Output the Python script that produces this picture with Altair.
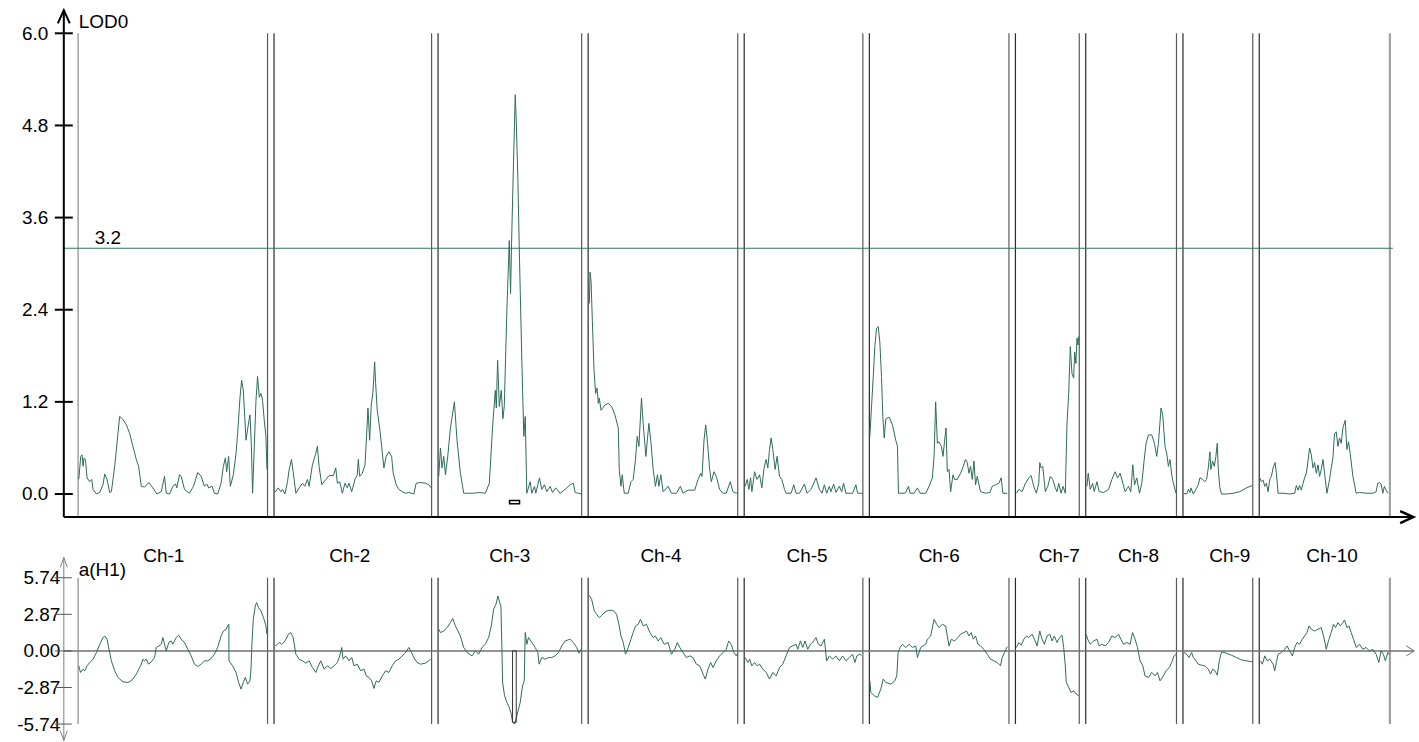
import altair as alt
import pandas as pd

# ------------------------------------------------------------------ data
CHROMS = ["Ch-1", "Ch-2", "Ch-3", "Ch-4", "Ch-5", "Ch-6", "Ch-7", "Ch-8", "Ch-9", "Ch-10"]
CHROM_CM = [190, 158, 144, 150, 119, 140, 64, 91, 70, 131]
NAME_AT_CM = [86, 76, 72, 73, 63, 70, 44, 53, 47, 73]
LOD_THRESHOLD = 3.2
LOD_TICKS = [0.0, 1.2, 2.4, 3.6, 4.8, 6.0]
ADD_TICKS = [-5.74, -2.87, 0.0, 2.87, 5.74]
QTL_CHROM = "Ch-3"
QTL_SUPPORT_CM = [71.7, 81.7]
QTL_PEAK_CM = [74.7, 78.4]
QTL_EFFECT = -5.6

LOD_CH1 = [(0.7,0.19),(2.7,0.49),(4.0,0.51),(5.0,0.36),(6.0,0.47),(7.4,0.45),(9.0,0.21),(11.7,0.16),(13.7,0.19),(15.0,0.06),(18.4,0.0),(21.7,0.02),(25.0,0.12),(26.7,0.26),(29.0,0.19),(31.7,0.02),(33.4,0.03),(36.7,0.36),(41.7,1.01),(45.0,0.97),(48.4,0.90),(51.7,0.79),(55.0,0.62),(58.4,0.45),(60.7,0.36),(63.4,0.10),(66.7,0.09),(71.0,0.15),(75.0,0.08),(79.0,0.0),(83.4,0.03),(86.7,0.23),(88.4,0.01),(91.7,0.0),(95.0,0.10),(97.7,0.13),(99.0,0.08),(101.7,0.25),(103.4,0.23),(106.7,0.06),(111.7,0.01),(115.7,0.10),(120.0,0.28),(123.4,0.23),(126.7,0.10),(129.0,0.13),(131.0,0.08),(134.4,0.10),(136.7,0.01),(140.0,0.0),(143.4,0.14),(145.7,0.36),(147.7,0.47),(149.0,0.29),(151.0,0.49),(152.7,0.10),(155.7,0.25),(158.4,0.53),(160.0,0.79),(162.4,1.26),(164.0,1.48),(165.7,1.35),(168.4,0.70),(170.4,0.88),(172.4,1.03),(173.7,0.66),(175.0,0.01),(176.7,0.62),(178.4,1.22),(180.0,1.53),(181.7,1.26),(183.4,1.31),(185.0,1.22),(186.7,0.96),(188.4,0.75),(189.4,0.32)]
LOD_CH2 = [(0.9,0.02),(4.2,0.08),(6.9,0.03),(8.5,0.06),(10.9,0.0),(13.5,0.16),(15.2,0.32),(17.5,0.45),(19.2,0.29),(21.9,0.01),(25.2,0.08),(28.5,0.14),(30.9,0.10),(33.5,0.19),(35.2,0.10),(38.5,0.38),(41.9,0.53),(43.5,0.62),(45.2,0.36),(47.9,0.12),(51.9,0.19),(55.2,0.24),(59.5,0.24),(61.9,0.34),(63.5,0.14),(65.9,0.16),(68.5,0.01),(71.2,0.14),(73.5,0.08),(75.2,0.14),(77.9,0.03),(81.2,0.19),(83.5,0.25),(84.5,0.45),(85.9,0.23),(88.5,0.27),(91.2,0.38),(92.9,0.77),(94.2,1.12),(95.9,0.70),(97.5,1.16),(99.2,1.33),(100.9,1.72),(101.9,1.44),(103.5,1.09),(106.2,0.83),(110.2,0.34),(112.5,0.49),(115.2,0.55),(117.9,0.49),(119.5,0.27),(122.5,0.12),(125.2,0.06),(128.5,0.03),(131.9,0.01),(135.2,0.02),(140.2,0.0),(142.5,0.14),(146.9,0.15),(151.9,0.14),(155.2,0.12),(157.5,0.08)]
LOD_CH3 = [(0.7,0.23),(2.4,0.60),(4.0,0.34),(5.7,0.49),(7.4,0.25),(9.7,0.49),(12.4,0.86),(16.4,1.20),(19.0,0.70),(22.4,0.27),(25.7,0.01),(30.7,0.01),(35.7,0.01),(40.7,0.02),(47.4,0.01),(51.4,0.14),(54.7,0.88),(57.4,1.35),(58.4,1.12),(59.7,1.74),(61.4,1.14),(63.4,1.35),(65.0,0.98),(66.4,1.14),(69.0,2.39),(71.4,3.30),(72.7,2.61),(74.0,3.43),(75.7,4.34),(77.4,5.20),(78.4,4.86),(80.0,4.12),(81.7,3.04),(84.0,1.74),(86.0,0.75),(87.4,1.01),(89.0,0.01),(92.4,0.16),(94.0,0.01),(96.7,0.10),(98.0,0.01),(101.7,0.21),(104.0,0.06),(106.7,0.12),(109.0,0.03),(112.4,0.10),(114.7,0.02),(118.0,0.08),(122.4,0.01),(127.4,0.06),(132.4,0.12),(135.7,0.14),(137.4,0.02),(140.7,0.01),(144.0,0.0)]
LOD_CH4 = [(1.2,2.48),(1.9,2.89),(2.9,2.78),(4.2,2.26),(5.9,1.61),(7.5,1.31),(8.9,1.38),(10.2,1.18),(11.2,1.25),(12.9,1.09),(16.9,1.16),(20.2,1.18),(23.5,1.14),(26.9,1.03),(30.2,0.86),(31.2,0.32),(32.9,0.10),(34.2,0.25),(36.2,0.01),(40.2,0.01),(42.9,0.16),(45.2,0.19),(47.5,0.45),(49.2,0.75),(50.9,0.62),(53.5,1.25),(55.2,0.92),(57.9,0.49),(60.9,0.92),(62.9,0.68),(65.2,0.32),(67.5,0.10),(69.5,0.25),(70.9,0.10),(72.9,0.25),(75.2,0.03),(80.2,0.10),(83.5,0.01),(88.5,0.01),(92.5,0.10),(95.2,0.01),(100.2,0.05),(106.9,0.05),(110.2,0.19),(112.9,0.27),(114.2,0.23),(116.2,0.70),(117.9,0.90),(119.5,0.70),(121.9,0.32),(123.5,0.16),(126.2,0.29),(128.5,0.23),(131.9,0.06),(135.2,0.01),(138.5,0.01),(142.5,0.16),(145.2,0.03),(148.5,0.01),(149.9,0.02)]
LOD_CH5 = [(1.0,0.10),(3.0,0.19),(4.7,0.06),(6.4,0.21),(7.7,0.03),(10.4,0.29),(12.7,0.19),(15.4,0.25),(17.7,0.08),(19.7,0.32),(22.0,0.45),(23.7,0.34),(25.4,0.58),(27.0,0.73),(28.7,0.58),(31.0,0.32),(33.0,0.49),(35.4,0.23),(37.7,0.19),(40.4,0.06),(42.0,0.01),(47.0,0.01),(49.7,0.12),(52.0,0.01),(55.4,0.01),(60.4,0.13),(63.0,0.01),(67.0,0.06),(72.0,0.21),(75.4,0.06),(78.0,0.01),(80.4,0.12),(82.7,0.01),(85.4,0.10),(87.0,0.03),(89.7,0.13),(92.0,0.02),(95.4,0.10),(97.7,0.03),(99.7,0.14),(102.0,0.01),(105.4,0.01),(108.7,0.01),(112.0,0.12),(113.7,0.01),(117.0,0.01),(118.7,0.01)]
LOD_CH6 = [(0.5,0.75),(2.2,1.14),(3.9,1.53),(5.5,1.92),(7.2,2.16),(8.9,2.18),(10.5,1.98),(12.2,1.53),(13.5,1.01),(14.9,0.73),(16.5,0.98),(19.9,1.00),(23.2,0.90),(26.5,0.70),(28.2,0.62),(29.2,0.01),(34.9,0.01),(36.5,0.02),(39.2,0.10),(40.9,0.01),(44.9,0.01),(48.2,0.08),(50.9,0.01),(56.5,0.01),(59.9,0.10),(63.2,0.21),(64.9,0.49),(66.5,1.20),(68.2,0.66),(69.9,0.68),(72.2,0.62),(73.9,0.49),(75.5,0.70),(76.9,0.86),(78.2,0.29),(79.9,0.32),(81.5,0.03),(83.9,0.25),(85.5,0.19),(88.2,0.19),(91.5,0.27),(94.2,0.36),(96.5,0.45),(98.2,0.41),(99.9,0.27),(101.5,0.36),(103.2,0.19),(104.9,0.43),(106.5,0.12),(108.2,0.23),(111.5,0.03),(116.5,0.01),(120.9,0.02),(123.2,0.10),(126.5,0.12),(129.9,0.14),(132.2,0.21),(133.9,0.01),(138.2,0.01)]
LOD_CH7 = [(1.0,0.01),(3.4,0.06),(6.7,0.03),(10.0,0.14),(13.4,0.21),(15.7,0.24),(18.4,0.10),(21.0,0.01),(23.4,0.14),(24.4,0.41),(25.7,0.34),(27.4,0.36),(30.0,0.03),(32.4,0.10),(35.0,0.23),(37.4,0.19),(40.0,0.08),(41.7,0.03),(43.4,0.14),(45.7,0.01),(47.7,0.10),(50.0,0.01),(51.7,0.92),(53.4,1.31),(55.0,1.92),(56.7,1.57),(58.4,1.51),(59.4,1.85),(60.7,1.70),(61.7,2.03),(62.7,1.94),(63.4,2.05)]
LOD_CH8 = [(1.2,0.10),(2.5,0.27),(4.5,0.06),(6.9,0.14),(8.5,0.03),(11.2,0.16),(13.5,0.03),(17.9,0.02),(22.9,0.06),(26.2,0.19),(29.5,0.29),(31.9,0.21),(34.5,0.27),(37.2,0.14),(39.5,0.03),(42.9,0.10),(45.2,0.03),(47.2,0.38),(48.9,0.12),(51.2,0.21),(53.9,0.01),(56.2,0.14),(58.5,0.43),(60.5,0.66),(62.9,0.77),(66.2,0.77),(68.9,0.66),(71.2,0.49),(72.9,0.66),(74.5,0.94),(75.5,1.12),(77.2,1.03),(79.5,0.62),(81.2,0.53),(82.9,0.36),(84.5,0.45),(86.2,0.25),(87.9,0.14),(90.5,0.01)]
LOD_CH9 = [(0.4,0.01),(3.7,0.0),(5.4,0.06),(7.0,0.02),(8.0,0.08),(10.4,0.0),(13.0,0.06),(15.4,0.12),(17.0,0.21),(19.7,0.19),(22.0,0.16),(23.7,0.19),(25.4,0.34),(26.4,0.47),(27.0,0.55),(28.0,0.32),(29.7,0.43),(31.4,0.36),(33.0,0.49),(34.4,0.66),(35.4,0.32),(37.0,0.08),(38.7,0.0),(43.7,0.0),(50.4,0.01),(57.0,0.03),(63.7,0.08),(69.4,0.11)]
LOD_CH10 = [(0.5,0.21),(2.2,0.16),(3.9,0.18),(5.5,0.10),(7.2,0.14),(8.9,0.03),(10.5,0.19),(12.2,0.23),(13.9,0.34),(15.9,0.41),(17.2,0.27),(18.9,0.01),(23.9,0.01),(30.5,0.0),(35.5,0.01),(37.2,0.11),(38.9,0.05),(40.5,0.11),(42.2,0.05),(43.9,0.14),(45.5,0.21),(47.2,0.27),(48.9,0.43),(50.5,0.60),(52.2,0.51),(53.9,0.34),(55.5,0.41),(57.2,0.27),(58.9,0.38),(60.5,0.23),(62.2,0.32),(63.9,0.45),(65.5,0.27),(67.9,0.01),(70.5,0.19),(72.2,0.34),(73.9,0.47),(75.5,0.79),(77.2,0.81),(78.9,0.62),(80.5,0.73),(82.2,0.66),(83.9,0.86),(86.2,0.96),(87.9,0.58),(89.5,0.68),(91.2,0.53),(93.9,0.23),(97.2,0.01),(100.5,0.02),(107.2,0.01),(113.9,0.01),(117.2,0.03),(118.9,0.14),(120.5,0.15),(122.2,0.13),(123.9,0.01),(125.5,0.10),(127.2,0.05),(128.9,0.01)]

ADD_CH1 = [(0.7,-1.17),(2.4,-1.69),(5.0,-1.43),(6.7,-1.56),(9.0,-1.17),(11.7,-0.91),(15.0,-0.65),(18.4,-0.13),(21.7,0.52),(25.0,1.05),(26.7,1.17),(29.0,0.92),(31.0,0.13),(33.4,-0.78),(36.7,-1.56),(40.0,-2.08),(45.0,-2.43),(50.0,-2.47),(53.4,-2.35),(58.4,-1.82),(63.4,-1.04),(65.0,-0.65),(66.7,-0.78),(68.4,-0.65),(70.7,-1.04),(73.4,-0.86),(76.7,-0.52),(78.4,0.27),(81.0,0.39),(83.4,0.52),(85.0,1.05),(86.7,0.52),(88.4,0.0),(91.0,0.66),(93.4,0.78),(95.0,0.52),(98.4,1.05),(101.0,1.23),(103.4,0.92),(106.7,0.66),(110.0,0.13),(113.4,-0.39),(116.7,-1.04),(120.0,-1.22),(123.4,-1.04),(126.7,-0.78),(130.0,-0.78),(133.4,-0.60),(136.7,-0.26),(140.0,0.27),(143.4,1.17),(145.7,1.56),(148.4,1.70),(150.0,1.96),(151.2,2.09),(151.3,-0.78),(155.0,-1.17),(158.4,-1.69),(161.0,-2.47),(163.4,-3.00),(165.7,-2.47),(167.7,-2.08),(170.0,-2.61),(172.4,-2.35),(173.4,-1.43),(174.4,0.66),(175.7,2.48),(177.7,3.52),(179.0,3.79),(181.0,3.40),(183.4,3.13),(186.0,2.61),(188.4,1.96),(189.4,1.31)]
ADD_CH2 = [(1.2,0.39),(3.5,0.52),(5.2,0.66),(7.9,0.52),(10.2,0.70),(11.9,0.92),(14.5,1.31),(16.9,1.44),(19.2,1.05),(21.9,-0.26),(25.2,-0.65),(28.5,-0.78),(31.9,-0.96),(35.2,-0.78),(38.5,-1.30),(41.9,-1.69),(44.5,-1.17),(46.9,-0.78),(50.2,-1.43),(53.5,-1.17),(56.9,-1.38),(60.2,-1.17),(63.5,-0.91),(65.9,-0.39),(67.9,0.27),(69.2,-0.65),(71.9,-0.39),(75.2,-0.78),(77.9,-0.52),(80.2,-1.17),(83.5,-1.04),(86.9,-1.56),(90.2,-1.43),(92.5,-1.96),(95.2,-2.08),(97.9,-2.35),(100.2,-2.94),(102.5,-2.35),(105.2,-2.47),(108.5,-1.96),(111.9,-1.56),(115.2,-1.69),(118.5,-1.17),(121.9,-0.78),(125.2,-0.65),(128.5,-0.39),(131.9,-0.13),(135.2,0.27),(137.9,-0.13),(140.2,-0.52),(143.5,-0.91),(146.9,-1.04),(151.9,-0.96),(155.2,-0.78),(157.5,-0.60)]
ADD_CH3 = [(0.7,1.70),(2.4,1.44),(5.7,1.56),(9.0,1.83),(12.4,2.22),(14.7,2.54),(17.4,1.96),(22.4,1.17),(25.7,0.27),(29.0,-0.13),(34.0,-0.39),(37.4,0.0),(40.7,-0.26),(44.0,0.27),(47.4,0.52),(50.7,1.05),(53.4,1.96),(55.7,3.26),(58.0,3.65),(60.0,4.30),(61.4,3.91),(63.0,3.52),(64.0,0.39),(64.7,-2.47),(66.7,-3.52),(69.0,-4.04),(71.4,-4.43),(73.4,-4.95),(74.7,-5.60),(76.7,-5.74),(79.0,-5.09),(82.4,-4.04),(84.7,-2.74),(86.4,-2.35),(87.4,1.44),(89.0,0.52),(90.7,1.05),(94.0,0.66),(97.4,0.27),(100.0,-0.13),(101.4,-1.04),(104.0,-0.52),(107.4,-0.65),(110.7,-0.52),(114.0,-0.52),(117.4,-0.39),(120.7,-0.13),(124.0,0.39),(127.4,0.78),(132.4,0.92),(135.7,0.66),(139.0,0.27),(141.4,-0.18),(143.4,0.13)]
ADD_CH4 = [(1.2,4.36),(3.5,4.05),(6.2,3.13),(8.5,2.87),(11.2,2.61),(13.5,2.79),(16.9,3.05),(20.2,3.18),(25.2,3.18),(28.5,2.87),(31.2,1.96),(32.9,1.17),(35.2,0.66),(37.5,-0.26),(40.2,0.27),(42.9,0.92),(45.2,1.44),(47.5,1.96),(50.2,2.09),(52.5,2.48),(55.2,1.96),(58.5,2.09),(61.9,1.44),(65.2,1.05),(67.5,1.17),(70.2,0.78),(72.9,1.05),(76.2,0.52),(80.2,0.66),(83.5,-0.26),(86.9,0.13),(89.5,0.66),(91.9,0.27),(95.2,-0.13),(98.5,-0.52),(101.9,-0.39),(105.2,-0.52),(108.5,-1.04),(111.9,-1.17),(115.2,-1.82),(117.5,-2.21),(120.2,-1.43),(122.9,-0.91),(125.2,-1.30),(128.5,-0.78),(131.9,-0.39),(135.2,-0.13),(138.5,0.13),(140.9,0.78),(143.5,0.52),(146.2,-0.13),(148.5,-0.39),(149.9,-0.18)]
ADD_CH5 = [(1.0,-0.52),(3.7,-0.91),(5.4,-0.65),(7.7,-1.17),(10.4,-0.91),(13.0,-1.17),(15.4,-1.04),(18.7,-1.43),(22.0,-1.69),(25.4,-2.21),(28.7,-1.69),(32.0,-1.96),(35.4,-1.30),(38.7,-1.04),(42.0,-0.39),(45.4,0.27),(48.7,0.39),(52.0,0.52),(53.7,0.13),(56.4,0.78),(58.7,0.27),(61.0,0.78),(63.7,0.13),(66.4,0.52),(69.7,0.78),(72.0,1.05),(74.4,0.52),(77.0,0.39),(80.4,0.92),(82.7,-0.78),(85.4,-0.39),(88.7,-0.65),(92.0,-0.39),(95.4,-0.78),(98.7,-0.39),(102.0,-0.78),(105.4,-0.52),(108.7,-0.26),(111.0,-0.91),(113.0,-0.39),(115.4,-0.26),(117.7,-0.34)]
ADD_CH6 = [(0.5,-2.35),(1.5,-3.26),(4.9,-3.52),(8.2,-3.65),(11.5,-3.00),(13.9,-2.21),(16.5,-2.47),(21.5,-2.61),(25.5,-2.35),(27.5,-1.96),(28.9,-0.13),(30.9,0.27),(33.2,0.52),(36.5,0.27),(39.9,0.52),(43.2,0.27),(46.5,0.39),(48.2,-0.52),(51.5,0.27),(56.5,0.52),(58.2,0.92),(61.5,1.17),(64.9,2.48),(67.5,2.09),(69.9,1.83),(73.2,2.09),(76.5,1.96),(79.9,0.39),(82.2,0.92),(85.5,0.78),(88.9,1.05),(91.5,1.31),(94.9,1.44),(97.5,1.56),(99.9,1.17),(102.2,1.44),(104.2,0.92),(106.5,1.17),(108.9,0.52),(111.5,0.39),(114.9,0.13),(118.2,-0.26),(121.5,-0.65),(124.9,-0.78),(128.2,-0.91),(131.5,-1.17),(133.2,-0.52),(135.5,-0.13),(138.2,0.34)]
ADD_CH7 = [(1.0,0.27),(3.4,0.66),(5.7,0.45),(8.4,0.92),(11.0,1.17),(13.4,1.05),(16.7,1.31),(19.0,0.92),(21.7,0.39),(24.4,1.56),(26.7,0.92),(29.0,0.52),(31.7,1.17),(34.4,1.31),(36.7,0.78),(39.0,1.17),(41.7,0.66),(44.4,1.05),(46.7,1.23),(48.4,0.27),(50.0,-1.17),(51.0,-2.47),(53.4,-2.86),(55.7,-3.26),(58.4,-3.13),(61.0,-3.39),(63.4,-3.52)]
ADD_CH8 = [(0.5,1.31),(1.9,0.92),(4.5,0.52),(7.9,0.78),(11.2,0.92),(13.5,0.39),(16.2,0.52),(19.5,0.39),(22.9,0.66),(26.2,1.17),(29.5,1.05),(32.9,1.31),(35.2,0.92),(37.9,0.52),(41.2,0.66),(44.5,0.52),(46.9,1.44),(49.5,0.92),(51.9,0.27),(54.5,-0.78),(57.2,-1.17),(59.5,-1.96),(62.9,-2.08),(66.2,-1.69),(69.5,-1.96),(71.9,-1.69),(74.5,-2.35),(77.9,-1.96),(80.5,-1.56),(83.9,-1.30),(86.2,-0.91),(88.5,-0.39),(90.5,-0.26)]
ADD_CH9 = [(1.0,-0.13),(3.7,-0.26),(6.0,-0.52),(8.7,-0.13),(10.4,-0.52),(13.0,-0.78),(15.4,-1.04),(18.7,-1.12),(22.0,-1.17),(25.4,-1.43),(27.7,-1.82),(29.7,-1.43),(32.0,-1.56),(34.4,-1.90),(36.4,-0.78),(38.7,-0.08),(43.7,-0.18),(48.7,-0.34),(53.7,-0.52),(58.7,-0.70),(63.7,-0.78),(69.7,-0.86)]
ADD_CH10 = [(1.2,-0.78),(3.2,-1.04),(5.5,-0.39),(7.9,-0.78),(10.5,-0.65),(13.9,-1.04),(15.5,-1.56),(17.2,-0.91),(18.9,-0.26),(22.2,-0.13),(25.5,0.13),(27.9,0.39),(30.5,0.0),(33.2,-0.39),(35.5,0.27),(37.9,0.66),(40.5,0.52),(43.2,0.92),(45.5,1.17),(47.9,1.44),(49.9,1.96),(52.2,1.70),(55.5,1.56),(58.9,1.70),(62.2,1.83),(64.5,1.17),(67.2,0.13),(69.9,0.92),(72.2,1.44),(74.5,2.09),(76.5,1.83),(78.9,2.22),(81.2,1.96),(83.9,2.22),(85.5,2.43),(87.9,1.83),(89.9,1.96),(92.2,1.44),(94.5,0.92),(97.2,0.27),(100.5,0.52),(103.9,0.13),(107.2,0.27),(110.5,0.0),(113.9,0.13),(117.2,-0.26),(119.9,-0.91),(122.2,0.0),(124.5,-0.26),(126.5,-0.78),(128.9,-0.13),(130.5,-0.26)]

LOD_SERIES = [LOD_CH1, LOD_CH2, LOD_CH3, LOD_CH4, LOD_CH5, LOD_CH6, LOD_CH7, LOD_CH8, LOD_CH9, LOD_CH10]
ADD_SERIES = [ADD_CH1, ADD_CH2, ADD_CH3, ADD_CH4, ADD_CH5, ADD_CH6, ADD_CH7, ADD_CH8, ADD_CH9, ADD_CH10]

# ------------------------------------------------------------------ layout
FONT = "Liberation Sans"
FS = 19
GREEN = "#2d6b5a"
LEAD = 14.3      # cM between the LOD axis and Ch-1
GAP = 6.5        # cM drawn between chromosomes
W = 1419
TOP_H, BOT_H = 530, 212
LOD_FLOOR = -0.301     # where the horizontal LOD axis sits
LOD_TIP = 6.30
ADD_LO, ADD_HI = -7.03, 7.33

starts = []
g = LEAD
for L in CHROM_CM:
    starts.append(g)
    g += L + GAP
ends = [s + L for s, L in zip(starts, CHROM_CM)]
X_END = ends[-1] + 23.5


def curve_frame(series):
    rows = []
    for ci, pts in enumerate(series):
        for k, (cm, v) in enumerate(pts):
            rows.append({"chrom": CHROMS[ci], "g": starts[ci] + cm, "v": v, "i": k})
    return pd.DataFrame(rows)


lod_df = curve_frame(LOD_SERIES)
add_df = curve_frame(ADD_SERIES)
qi = CHROMS.index(QTL_CHROM)

XS = alt.Scale(domain=[-64, W - 64], nice=False, zero=False)
TOP_Y = alt.Scale(domain=[-0.463, 6.42], nice=False, zero=False)
BOT_Y = alt.Scale(domain=[-7.066, 9.523], nice=False, zero=False)

AX_TOP = alt.Axis(values=LOD_TICKS, format=".1f", domain=False, ticks=False, tickSize=0,
                  grid=False, offset=-64, labelPadding=16, labelFont=FONT, labelFontSize=FS,
                  labelColor="black", title=None, minExtent=0, labelFlush=False, labelOverlap=False)
AX_BOT = alt.Axis(values=ADD_TICKS,
                  labelExpr="(datum.value < 0 ? '-' : '') + format(abs(datum.value), '.2f')",
                  domain=False, ticks=False, tickSize=0, grid=False, offset=-64, labelPadding=4,
                  labelFont=FONT, labelFontSize=FS, labelColor="black", title=None, minExtent=0,
                  labelFlush=False, labelOverlap=False)


def X(f):
    return alt.X(f, type="quantitative", scale=XS, axis=None)


def YT(f):
    return alt.Y(f, type="quantitative", scale=TOP_Y, axis=AX_TOP)


def YB(f):
    return alt.Y(f, type="quantitative", scale=BOT_Y, axis=AX_BOT)


def bounds_frame(lo, hi):
    rows = []
    for i in range(len(CHROMS)):
        rows.append({"x": starts[i], "y": hi, "y2": lo, "kind": "first" if i == 0 else "start"})
        rows.append({"x": ends[i], "y": hi, "y2": lo, "kind": "last" if i == len(CHROMS) - 1 else "end"})
    return pd.DataFrame(rows)


KIND_COLOR = alt.Color("kind:N", scale=alt.Scale(domain=["first", "start", "end", "last"],
                                                 range=["#8a8a8a", "#2a2a2a", "#5a5a5a", "#a0a0a0"]),
                       legend=None)


def bound_layers(df, yf):
    thin = alt.Chart(df[df.kind != "last"]).mark_rule(strokeWidth=1.2).encode(
        x=X("x"), y=yf("y"), y2="y2", color=KIND_COLOR)
    thick = alt.Chart(df[df.kind == "last"]).mark_rule(strokeWidth=2.2).encode(
        x=X("x"), y=yf("y"), y2="y2", color=KIND_COLOR)
    return [thin, thick]


# ------------------------------------------------------------------ top panel
tb = bounds_frame(LOD_FLOOR, 6.0)
thr = alt.Chart(pd.DataFrame({"x": [0], "x2": [ends[-1] + 3], "y": [LOD_THRESHOLD]})).mark_rule(
    color="#2a7560", strokeWidth=1.1).encode(x=X("x"), x2="x2", y=YT("y"))
lod_line = alt.Chart(lod_df).mark_line(color=GREEN, strokeWidth=1).encode(
    x=X("g"), y=YT("v"), detail="chrom:N", order="i:Q")
x_axis = alt.Chart(pd.DataFrame({"x": [0], "x2": [X_END - 1], "y": [LOD_FLOOR]})).mark_rule(
    color="black", strokeWidth=2).encode(x=X("x"), x2="x2", y=YT("y"))
y_axis = alt.Chart(pd.DataFrame({"x": [0], "y": [LOD_FLOOR], "y2": [LOD_TIP]})).mark_rule(
    color="black", strokeWidth=2).encode(x=X("x"), y=YT("y"), y2="y2")
t_ticks = alt.Chart(pd.DataFrame({"y": LOD_TICKS, "x": -9, "x2": 9})).mark_rule(
    color="black", strokeWidth=2).encode(x=X("x"), x2="x2", y=YT("y"))
up_arrow = alt.Chart(pd.DataFrame({"x": [0], "y": [LOD_TIP]})).mark_point(
    shape="M-1,2.2L0,0L1,2.2", size=144, filled=False, color="black", strokeWidth=2,
    opacity=1).encode(x=X("x"), y=YT("y"))
right_arrow = alt.Chart(pd.DataFrame({"x": [X_END], "y": [LOD_FLOOR]})).mark_point(
    shape="M-2.2,-1L0,0L-2.2,1", size=144, filled=False, color="black", strokeWidth=2.5,
    opacity=1).encode(x=X("x"), y=YT("y"))
top_text = alt.Chart(pd.DataFrame({"x": [15, 31], "y": [6.15, 3.34], "t": ["LOD0", str(LOD_THRESHOLD)]})).mark_text(
    align="left", baseline="middle", font=FONT, fontSize=FS, color="black").encode(
    x=X("x"), y=YT("y"), text="t:N")
support = alt.Chart(pd.DataFrame({"x": [starts[qi] + QTL_SUPPORT_CM[0]], "x2": [starts[qi] + QTL_SUPPORT_CM[1]],
                                  "y": [-0.083], "y2": [-0.128]})).mark_rect(
    fill="white", stroke="black", strokeWidth=1.5).encode(x=X("x"), x2="x2", y=YT("y"), y2="y2")

top = alt.layer(*bound_layers(tb, YT), thr, lod_line, x_axis, y_axis, t_ticks, up_arrow,
                right_arrow, top_text, support).properties(width=W, height=TOP_H)

# ------------------------------------------------------------------ bottom panel
bb = bounds_frame(-5.74, 5.74)
zero = alt.Chart(pd.DataFrame({"x": [0], "x2": [X_END], "y": [0.0]})).mark_rule(
    color="#707070", strokeWidth=1.5).encode(x=X("x"), x2="x2", y=YB("y"))
zero_arrow = alt.Chart(pd.DataFrame({"x": [X_END + 1], "y": [0.0]})).mark_point(
    shape="M-2,-1.25L0,0L-2,1.25", size=64, filled=False, color="#707070", strokeWidth=1,
    opacity=1).encode(x=X("x"), y=YB("y"))
b_axis = alt.Chart(pd.DataFrame({"x": [0], "y": [ADD_LO], "y2": [ADD_HI]})).mark_rule(
    color="#808080", strokeWidth=1).encode(x=X("x"), y=YB("y"), y2="y2")
b_arrows = alt.Chart(pd.DataFrame({"x": [0], "y": [ADD_HI]})).mark_point(
    shape="M-1,2.8L0,0L1,2.8", size=49, filled=False, color="#808080", strokeWidth=1,
    opacity=1).encode(x=X("x"), y=YB("y"))
b_arrows2 = alt.Chart(pd.DataFrame({"x": [0], "y": [ADD_LO]})).mark_point(
    shape="M-1,-2.8L0,0L1,-2.8", size=49, filled=False, color="#808080", strokeWidth=1,
    opacity=1).encode(x=X("x"), y=YB("y"))
b_ticks = alt.Chart(pd.DataFrame({"y": ADD_TICKS, "x": -9, "x2": 8})).mark_rule(
    color="#555555", strokeWidth=1).encode(x=X("x"), x2="x2", y=YB("y"))
add_line = alt.Chart(add_df).mark_line(color=GREEN, strokeWidth=1).encode(
    x=X("g"), y=YB("v"), detail="chrom:N", order="i:Q")
peak_bar = alt.Chart(pd.DataFrame({"x": [starts[qi] + QTL_PEAK_CM[0]], "x2": [starts[qi] + QTL_PEAK_CM[1]],
                                   "y": [0.0], "y2": [QTL_EFFECT]})).mark_rect(
    filled=False, color="#333333", strokeWidth=1).encode(x=X("x"), x2="x2", y=YB("y"), y2="y2")
a_text = alt.Chart(pd.DataFrame({"x": [15], "y": [6.35], "t": ["a(H1)"]})).mark_text(
    align="left", baseline="middle", font=FONT, fontSize=FS, color="black").encode(
    x=X("x"), y=YB("y"), text="t:N")
names = alt.Chart(pd.DataFrame({"x": [s + c for s, c in zip(starts, NAME_AT_CM)], "y": 7.45, "t": CHROMS})).mark_text(
    align="center", baseline="middle", font=FONT, fontSize=FS, color="black").encode(
    x=X("x"), y=YB("y"), text="t:N")

bottom = alt.layer(*bound_layers(bb, YB), zero, zero_arrow, b_axis, b_arrows, b_arrows2, b_ticks,
                   add_line, peak_bar, a_text, names).properties(width=W, height=BOT_H)

chart = alt.vconcat(top, bottom, spacing=0).properties(
    padding=0, background="white").configure_view(stroke="transparent", strokeWidth=0)

chart.save("out.html", embed_options={"renderer": "svg", "actions": False})
